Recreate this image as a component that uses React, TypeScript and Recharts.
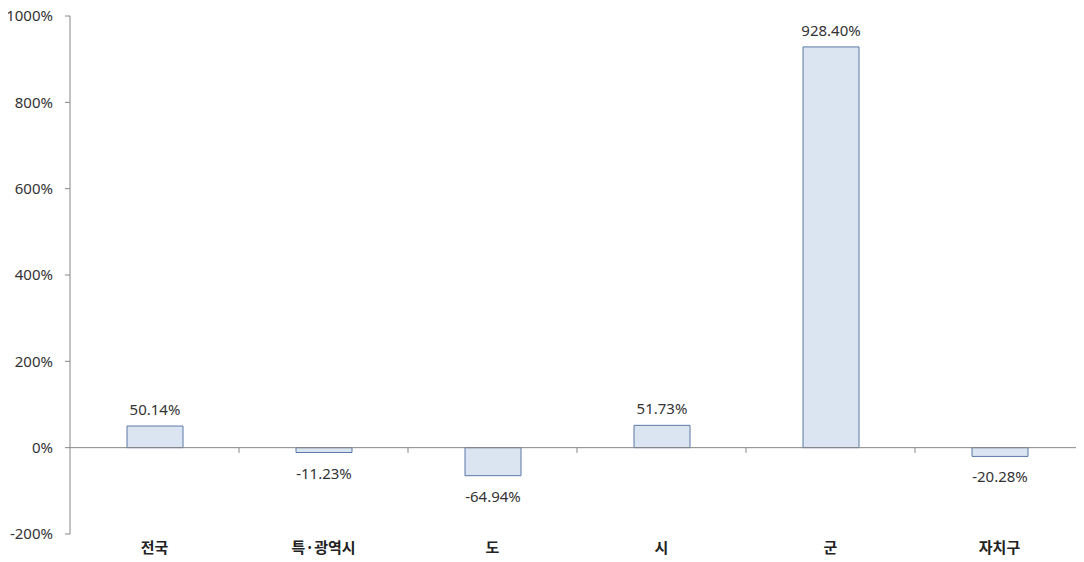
import React from 'react';
import { BarChart, Bar, XAxis, YAxis, ReferenceLine, LabelList } from 'recharts';

const categories = ['전국', '특·광역시', '도', '시', '군', '자치구'];
const values = [50.14, -11.23, -64.94, 51.73, 928.4, -20.28];
const yTicks = [-200, 0, 200, 400, 600, 800, 1000];
// category boundaries on the 0% line: tick at the start of each of these bands
const boundaryCategories = categories.slice(1);

const data = categories.map((name, i) => ({ name, value: values[i] }));

const AXIS = '#868686';
const TEXT = '#333333';
const NUM_FONT = '"Noto Sans", sans-serif';

const renderLabel = (props: any) => {
  const vb = props.viewBox || {};
  const x = props.x ?? vb.x;
  const y = props.y ?? vb.y;
  const width = props.width ?? vb.width;
  const height = props.height ?? vb.height;
  const value = Number(props.value);
  const top = Math.min(y, y + height);
  const bottom = Math.max(y, y + height);
  const cy = value >= 0 ? top - 17 : bottom + 20;
  return (
    <text
      x={x + width / 2}
      y={cy}
      textAnchor="middle"
      dominantBaseline="central"
      fontFamily={NUM_FONT}
      fontSize={15}
      fill={TEXT}
    >
      {value.toFixed(2)}%
    </text>
  );
};

export default function App() {
  return (
    <div style={{ width: 1084, height: 562, marginTop: -8, marginLeft: -8 }}>
      <BarChart
        width={1084}
        height={562}
        data={data}
        margin={{ top: 16, right: 0, bottom: 0, left: 8 }}
      >
        <XAxis
          dataKey="name"
          axisLine={false}
          tickLine={false}
          height={28}
          interval={0}
          tick={{ fill: '#222', fontSize: 15, fontWeight: 700, fontFamily: '"Noto Sans CJK KR", sans-serif' }}
        />
        <YAxis
          domain={[-200, 1000]}
          ticks={yTicks}
          width={62}
          axisLine={{ stroke: AXIS }}
          tickLine={{ stroke: AXIS }}
          tickSize={5}
          tickMargin={12}
          tickFormatter={(v: number) => `${v}%`}
          tick={{ fill: TEXT, fontSize: 15, fontFamily: NUM_FONT }}
          allowDataOverflow
        />
        <ReferenceLine y={0} stroke={AXIS} strokeWidth={1} />
        {boundaryCategories.map((c) => (
          <ReferenceLine
            key={c}
            position="start"
            segment={[{ x: c, y: 0 }, { x: c, y: -12 }]}
            stroke={AXIS}
            strokeWidth={1}
          />
        ))}
        <Bar dataKey="value" barSize={56} fill="#dbe5f1" stroke="#5a78a8" strokeWidth={1} isAnimationActive={false}>
          <LabelList dataKey="value" content={renderLabel} />
        </Bar>
      </BarChart>
    </div>
  );
}
